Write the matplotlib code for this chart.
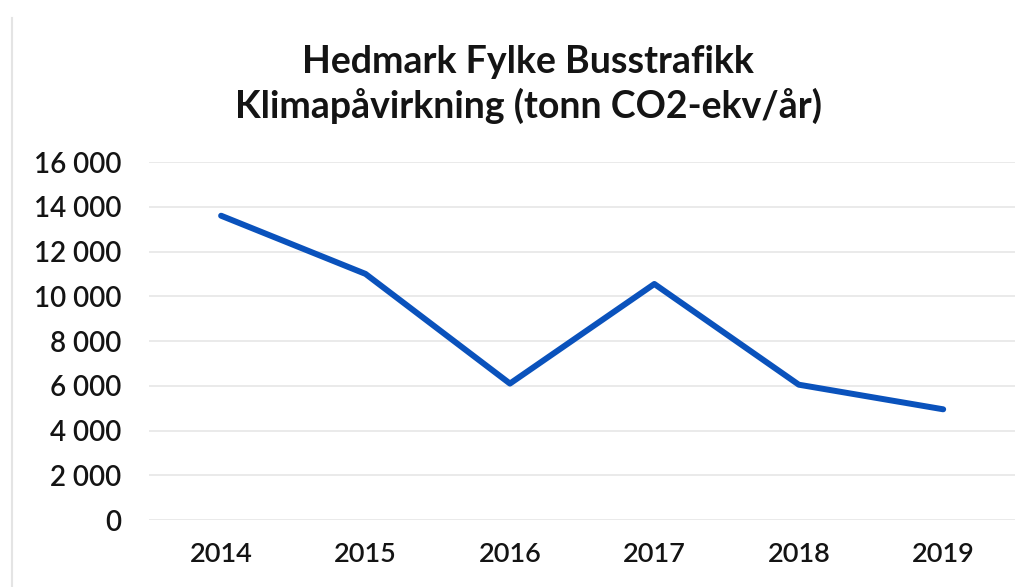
import matplotlib
matplotlib.use("Agg")
import matplotlib.pyplot as plt
from matplotlib.ticker import FuncFormatter

years = ["2014", "2015", "2016", "2017", "2018", "2019"]
utslipp = [13600, 11000, 6100, 10550, 6050, 4950]
y_ticks = [0, 2000, 4000, 6000, 8000, 10000, 12000, 14000, 16000]

plt.rcParams['font.family'] = ['Lato', 'DejaVu Sans']

fig = plt.figure(figsize=(10.34, 5.87), dpi=100)
ax = fig.add_axes([0.144, 0.114, 0.838, 0.61])

x = list(range(len(years)))
ax.plot(x, utslipp, color='#0a52bc', linewidth=4.3, solid_joinstyle='round',
        solid_capstyle='round', zorder=3)

ax.set_xlim(-0.5, len(years) - 0.5)
ax.set_ylim(0, 16000)
ax.set_yticks(y_ticks)
ax.yaxis.set_major_formatter(FuncFormatter(lambda v, p: f"{int(v):,}".replace(",", " ")))
ax.set_xticks(x)
ax.set_xticklabels(years)

ax.grid(axis='y', color='#e6e6e6', linewidth=1.2)
ax.set_axisbelow(True)
for s in ax.spines.values():
    s.set_visible(False)
ax.tick_params(length=0)
ax.tick_params(axis='y', labelsize=20, pad=20, labelcolor='#141414')
ax.tick_params(axis='x', labelsize=19.5, pad=16, labelcolor='#141414')
for lbl in ax.get_yticklabels() + ax.get_xticklabels():
    lbl.set_fontweight('semibold')

fig.text(0.511, 0.895, "Hedmark Fylke Busstrafikk", ha='center', va='center',
         fontsize=27, fontweight='bold', color='#141414')
fig.text(0.511, 0.82, "Klimapåvirkning (tonn CO2-ekv/år)", ha='center', va='center',
         fontsize=27, fontweight='bold', color='#141414')

# faint edge of the scanned chart frame
fig.add_artist(plt.Line2D([0.012, 0.012], [0.0, 0.97], color='#e4e4e4', linewidth=1.5))

fig.savefig("out.png", dpi=100)
